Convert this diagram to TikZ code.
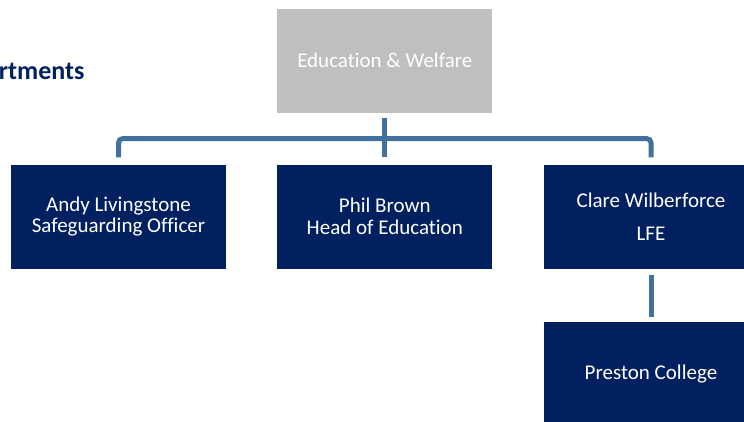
\documentclass[tikz,border=0pt]{standalone}
\usepackage{fontspec}
\setmainfont{Carlito}[Ligatures={NoCommon}]
\usetikzlibrary{calc}
\definecolor{navy}{RGB}{0,32,96}
\definecolor{greybox}{RGB}{191,191,191}
\definecolor{conncol}{RGB}{65,113,156}
\begin{document}
\begin{tikzpicture}[x=1pt,y=1pt,
  box/.style={fill=navy,text=white,minimum width=215pt,minimum height=104pt,inner sep=0pt,align=center,font=\fontsize{21}{21.5}\selectfont},
  topbox/.style={box,fill=greybox},
  conn/.style={draw=conncol,line width=5pt}]
\useasboundingbox (0,0) rectangle (744,-421);
\clip (0,0) rectangle (744,-421);
\node[text=navy,font=\fontsize{26}{30}\selectfont\bfseries,anchor=base east] (title) at (88,-79) {rtments};
\node[topbox] (edu) at (384.8,-60.5) {Education \& Welfare};
\node[box] (andy) at (118.5,-216.5) {Andy Livingstone\\Safeguarding Officer};
\node[box] (phil) at (384.8,-216.5) {Phil Brown\\Head of Education};
\node[box] (clare) at (651,-216.5) {Clare Wilberforce\\[11pt]LFE};
\node[box] (preston) at (651,-374) {Preston College};
\draw[conn] ([yshift=-5pt]edu.south) -- ([yshift=7pt]phil.north);
\draw[conn,rounded corners=4pt] ([yshift=7pt]andy.north) |- ($(edu.south)+(0,-26)$) -| ([yshift=7pt]clare.north);
\draw[conn] ([yshift=-6pt]clare.south) -- ([yshift=5pt]preston.north);
\end{tikzpicture}
\end{document}
